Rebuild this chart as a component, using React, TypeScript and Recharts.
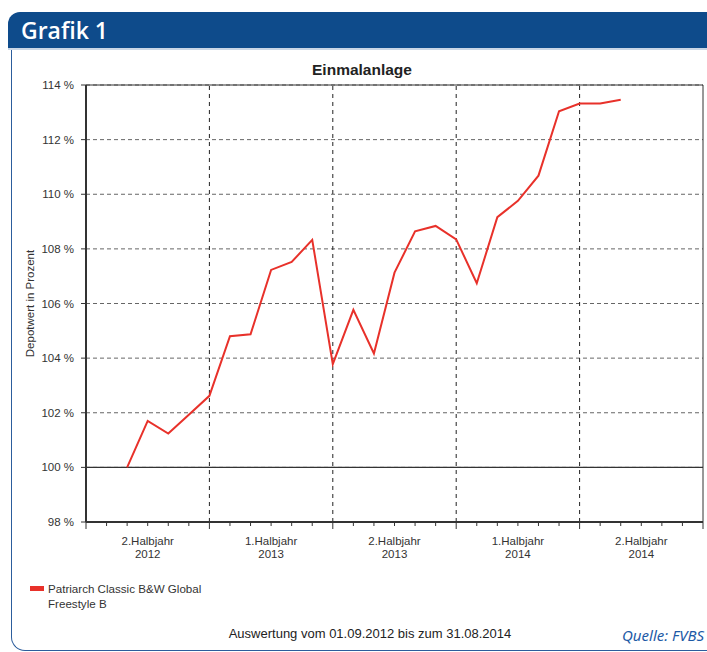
import { LineChart, Line, XAxis, YAxis, CartesianGrid, ReferenceLine } from 'recharts';

// months counted from 01.07.2012 (0) to 01.01.2015 (30)
const monthIndex = [2, 3, 4, 5, 6, 7, 8, 9, 10, 11, 12, 13, 14, 15, 16, 17, 18, 19, 20, 21, 22, 23, 24, 25, 26];
const depotValues = [
  100.0, 101.7, 101.24, 101.93, 102.62, 104.8, 104.87, 107.23, 107.52, 108.33, 103.78, 105.77, 104.17,
  107.13, 108.64, 108.84, 108.35, 106.74, 109.16, 109.76, 110.68, 113.04, 113.32, 113.32, 113.46,
];
const monthTicks = Array.from({ length: 31 }, (_, i) => i);
const halfYearBounds = [6, 12, 18, 24];
const halfYearCenters = [3, 9, 15, 21, 27];
const halfYearNames = ['2.Halbjahr', '1.Halbjahr', '2.Halbjahr', '1.Halbjahr', '2.Halbjahr'];
const halfYearYears = ['2012', '2013', '2013', '2014', '2014'];
const yTicks = [98, 100, 102, 104, 106, 108, 110, 112, 114];

const seriesName = 'Patriarch Classic B&W Global Freestyle B';
const data = monthIndex.map((m, i) => ({ month: m, value: depotValues[i] }));

const FONT = '"Liberation Sans", Arial, sans-serif';

function MonthTick(props: any) {
  const { x, y, payload } = props;
  const v = payload.value;
  const isHalf = v % 6 === 0;
  const idx = halfYearCenters.indexOf(v);
  return (
    <g>
      <line x1={x} x2={x} y1={y} y2={y + (isHalf ? 7 : 4)} stroke="#333" strokeWidth={1} />
      {idx >= 0 && (
        <text x={x} y={y + 23} textAnchor="middle" fontSize={11.5} fill="#333" fontFamily={FONT}>
          <tspan x={x}>{halfYearNames[idx]}</tspan>
          <tspan x={x} dy={13}>
            {halfYearYears[idx]}
          </tspan>
        </text>
      )}
    </g>
  );
}

export default function App() {
  return (
    <div
      style={{
        position: 'absolute',
        left: 0,
        top: 0,
        width: 707,
        height: 652,
        overflow: 'hidden',
        background: '#fff',
        fontFamily: FONT,
      }}
    >
      <div
        style={{
          position: 'absolute',
          left: 11,
          top: 44,
          width: 740,
          height: 606,
          borderLeft: '1.5px solid #2c5d9c',
          borderBottom: '1.5px solid #2c5d9c',
          borderBottomLeftRadius: 14,
        }}
      />
      <div
        style={{
          position: 'absolute',
          left: 8,
          top: 12,
          width: 720,
          height: 36,
          background: '#0e4b8b',
          borderTopLeftRadius: 12,
          borderBottom: '2px solid #c9d6e6',
        }}
      >
        <span
          style={{
            position: 'absolute',
            left: 13,
            top: 2,
            color: '#fff',
            fontFamily: '"Open Sans", sans-serif',
            fontWeight: 600,
            fontSize: 23,
          }}
        >
          Grafik 1
        </span>
      </div>

      <div
        style={{
          position: 'absolute',
          left: 262,
          width: 200,
          top: 61,
          textAlign: 'center',
          fontWeight: 700,
          fontSize: 15.5,
          color: '#222',
        }}
      >
        Einmalanlage
      </div>

      <div style={{ position: 'absolute', left: 0, top: 0 }}>
        <LineChart width={707} height={652} data={data} margin={{ top: 85, right: 4, bottom: 90, left: 0 }}>
          <CartesianGrid vertical={false} stroke="#666" strokeDasharray="4 3" />
          <XAxis
            dataKey="month"
            type="number"
            domain={[0, 30]}
            ticks={monthTicks}
            interval={0}
            tickSize={0}
            tickMargin={0}
            height={40}
            axisLine={{ stroke: '#333', strokeWidth: 2 }}
            tickLine={false}
            tick={<MonthTick />}
          />
          <YAxis
            type="number"
            domain={[98, 114]}
            ticks={yTicks}
            width={86}
            tickSize={5}
            tickMargin={7}
            tickFormatter={(v: number) => `${v} %`}
            tick={{ fontSize: 11.5, fill: '#333', fontFamily: FONT }}
            axisLine={{ stroke: '#333', strokeWidth: 2 }}
            tickLine={{ stroke: '#333' }}
            label={{
              value: 'Depotwert in Prozent',
              angle: -90,
              position: 'insideLeft',
              offset: 30,
              style: { textAnchor: 'middle', fontSize: 11.5, fill: '#333', fontFamily: FONT },
            }}
          />
          {halfYearBounds.map((b) => (
            <ReferenceLine key={b} x={b} stroke="#222" strokeDasharray="4 4" />
          ))}
          <ReferenceLine y={100} stroke="#333" strokeWidth={1.2} />
          <ReferenceLine y={114} stroke="#333" />
          <ReferenceLine x={30} stroke="#333" />
          <Line
            type="linear"
            dataKey="value"
            name={seriesName}
            stroke="#e8312a"
            strokeWidth={2}
            dot={false}
            isAnimationActive={false}
          />
        </LineChart>
      </div>

      <div style={{ position: 'absolute', left: 30, top: 586, width: 14, height: 5, background: '#e8312a' }} />
      <div style={{ position: 'absolute', left: 48, top: 581, fontSize: 11.6, lineHeight: '15px', color: '#333' }}>
        Patriarch Classic B&amp;W Global
        <br />
        Freestyle B
      </div>

      <div
        style={{
          position: 'absolute',
          left: 170,
          width: 400,
          top: 626,
          textAlign: 'center',
          fontSize: 13,
          color: '#222',
        }}
      >
        Auswertung vom 01.09.2012 bis zum 31.08.2014
      </div>
      <div
        style={{
          position: 'absolute',
          right: 3,
          top: 625,
          fontSize: 15,
          fontStyle: 'italic',
          color: '#1d5aa6',
          fontFamily: '"Liberation Sans Narrow", "Noto Sans", sans-serif',
        }}
      >
        Quelle: FVBS
      </div>
    </div>
  );
}
